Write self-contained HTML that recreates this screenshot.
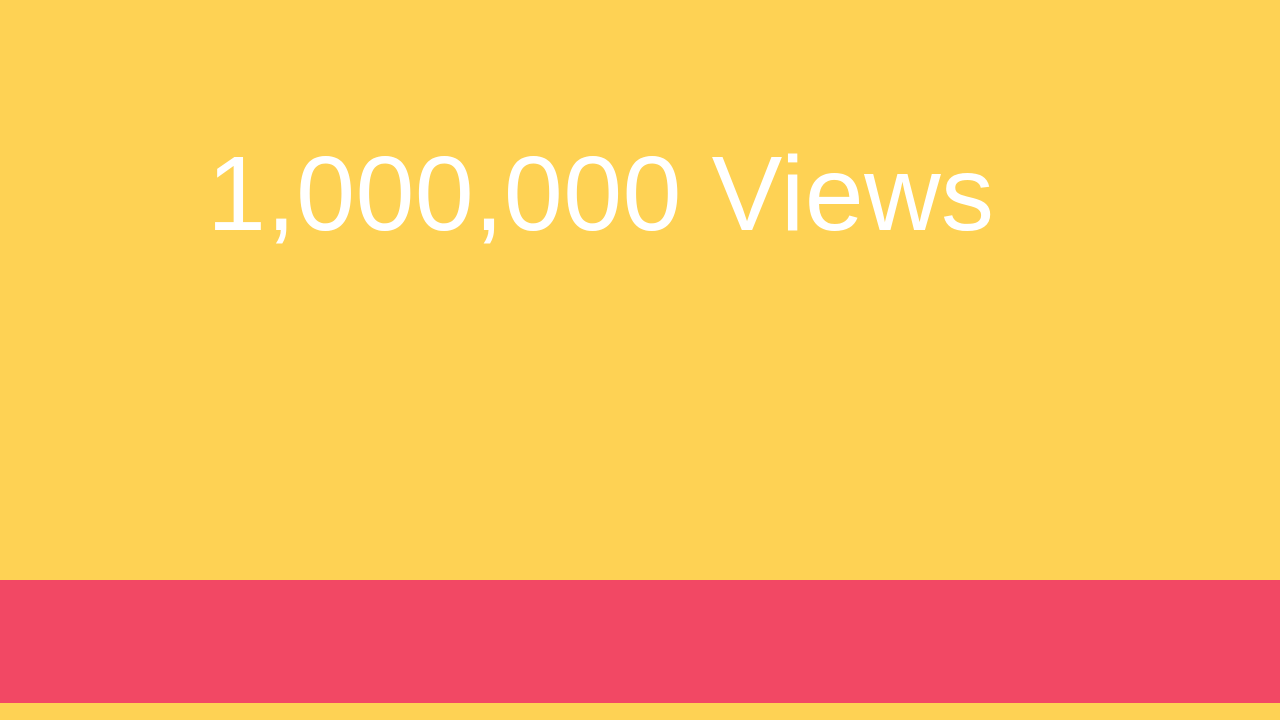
<!DOCTYPE html>
<html><head><meta charset="utf-8"><style>
html,body{margin:0;padding:0;width:1280px;height:720px;overflow:hidden;background:#fed254;}
.band{position:absolute;left:0;top:580px;width:1280px;height:123px;background:#f24864;}
svg{position:absolute;left:0;top:0;}
</style></head><body>
<div class="band"></div>
<svg width="1280" height="720">
<text x="207" y="230" font-family="Liberation Sans, sans-serif" font-size="106" fill="#ffffff" textLength="787">1,000,000 Views</text>
</svg>
</body></html>
